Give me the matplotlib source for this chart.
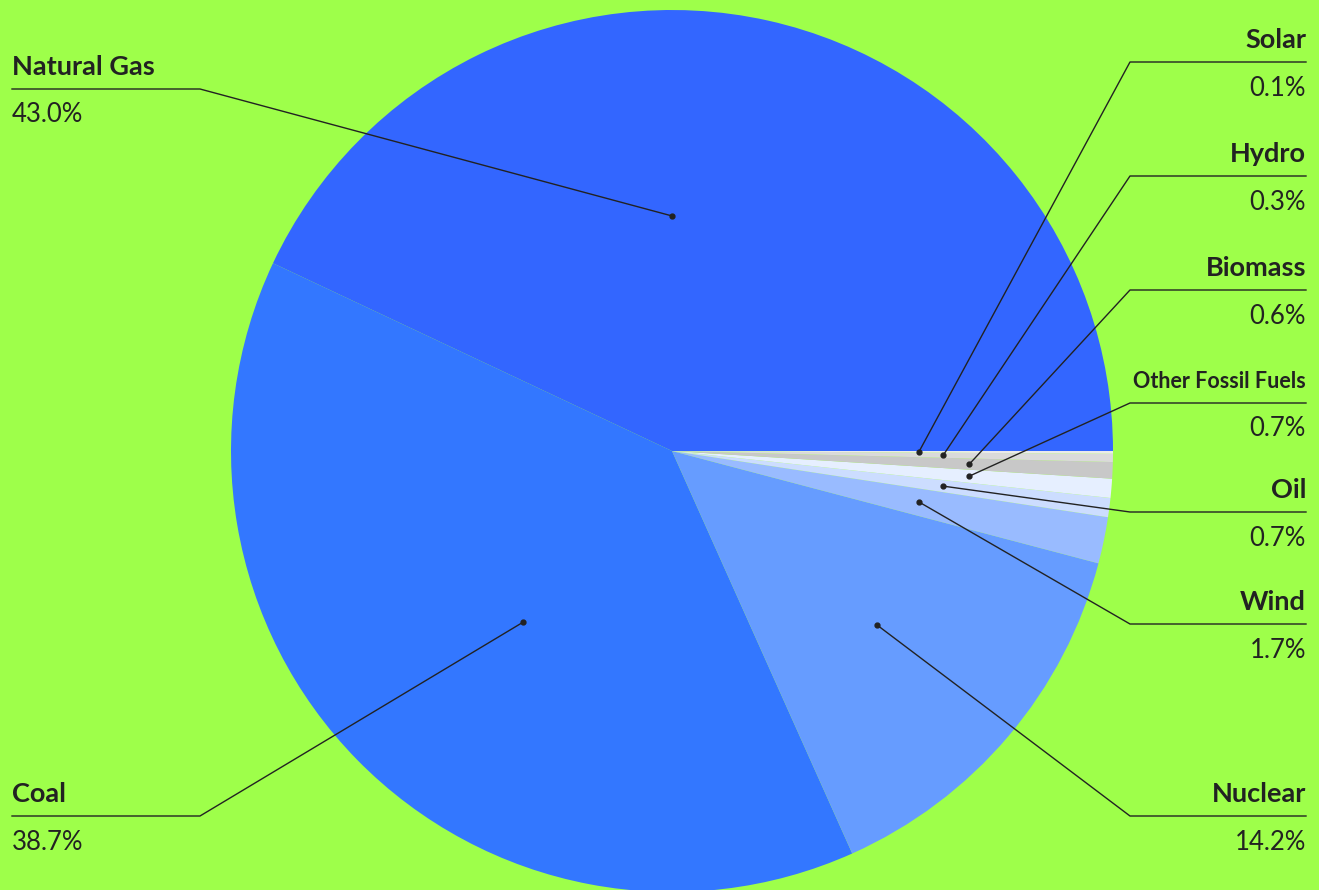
import numpy as np
import matplotlib.pyplot as plt

# share of generation by source (%)
sources = ['Natural Gas', 'Coal', 'Nuclear', 'Wind', 'Oil',
           'Other Fossil Fuels', 'Biomass', 'Hydro', 'Solar']
shares = [43.0, 38.7, 14.2, 1.7, 0.7, 0.7, 0.6, 0.3, 0.1]
colors = ['#3366FF', '#3377FF', '#669CFF', '#99BBFF', '#CCDDFF',
          '#E6EFFF', '#C8C8C8', '#DADADA', '#EAEAEA']

# leader line layout (label side, y of label underline in pixels, dot radius fraction, angle offset)
label_side = ['left', 'left', 'right', 'right', 'right', 'right', 'right', 'right', 'right']
label_line_y = [89, 816, 816, 624, 512, 403, 290, 176, 62]
dot_frac = [0.533, 0.515, 0.61, 0.573, 0.62, 0.676, 0.675, 0.615, 0.56]
angle_shift = [12.6, 4.5, 0, 0, 0, 0, 0, 0, 0]

W, H = 1319, 890
bg = '#9EFF4A'
ink = '#222222'
plt.rcParams['font.family'] = ['Lato', 'DejaVu Sans']

fig = plt.figure(figsize=(W / 100, H / 100), dpi=100, facecolor=bg)
ax = fig.add_axes([0, 0, 1, 1])
ax.set_facecolor(bg)

cx, cy, R = 672, H - 451, 441
wedges, _ = ax.pie(shares, colors=colors, startangle=0, counterclock=True,
                   center=(cx, cy), radius=R, frame=True,
                   wedgeprops=dict(linewidth=0))
ax.set_xlim(0, W)
ax.set_ylim(0, H)
ax.set_aspect('equal')
ax.axis('off')

for w, name, val, side, ly, fr, sh in zip(wedges, sources, shares, label_side,
                                          label_line_y, dot_frac, angle_shift):
    mid = np.deg2rad((w.theta1 + w.theta2) / 2 + sh)
    dx = cx + fr * R * np.cos(mid)
    dy = cy + fr * R * np.sin(mid)
    y = H - ly
    if side == 'right':
        knee, end, ha, tx = 1130, 1306, 'right', 1306
    else:
        knee, end, ha, tx = 200, 12, 'left', 12
    ax.plot([dx, knee, end], [dy, y, y], color=ink, lw=1)
    ax.plot(dx, dy, 'o', color=ink, ms=3.5)
    fs = 15.5 if len(name) > 12 else 19.5
    ax.text(tx, y + 22, name, ha=ha, va='center', fontsize=fs,
            fontweight='bold', color=ink)
    ax.text(tx, y - 26, f'{val:.1f}%', ha=ha, va='center', fontsize=18.5, color=ink)

fig.savefig('out.png', dpi=100, facecolor=bg)
